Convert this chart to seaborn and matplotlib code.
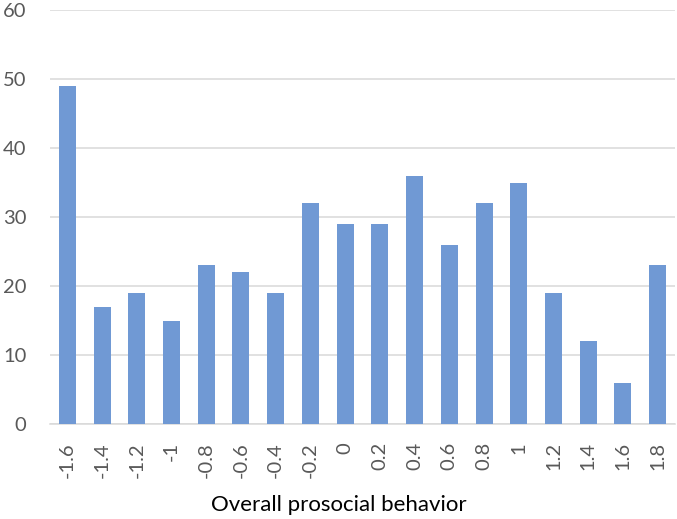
import matplotlib
matplotlib.use("Agg")
import matplotlib.pyplot as plt
import seaborn as sns
import pandas as pd

categories = ["-1.6", "-1.4", "-1.2", "-1", "-0.8", "-0.6", "-0.4", "-0.2", "0",
              "0.2", "0.4", "0.6", "0.8", "1", "1.2", "1.4", "1.6", "1.8"]
counts = [49, 17, 19, 15, 23, 22, 19, 32, 29, 29, 36, 26, 32, 35, 19, 12, 6, 23]
y_ticks = [0, 10, 20, 30, 40, 50, 60]
x_label = "Overall prosocial behavior"

df = pd.DataFrame({"cat": categories, "val": counts})

sns.set_style("white")
plt.rcParams["font.family"] = ["Lato", "DejaVu Sans"]

fig = plt.figure(figsize=(6.77, 5.19), dpi=100)
ax = fig.add_axes([50/677, 1-424/519, 625/677, 414/519])
sns.barplot(data=df, x="cat", y="val", order=categories, color="#7099D4",
            saturation=1, width=0.49, ax=ax, zorder=3, linewidth=0)

ax.set_ylim(0, 60)
ax.set_yticks(y_ticks)
ax.set_xlim(-0.5, len(categories) - 0.5)
ax.yaxis.grid(True, color="#D9D9D9", linewidth=1.1, zorder=0)
ax.set_axisbelow(True)
for s in ["top", "right", "left"]:
    ax.spines[s].set_visible(False)
ax.spines["bottom"].set_color("#D9D9D9")
ax.spines["bottom"].set_linewidth(1.1)
ax.tick_params(axis="both", length=0, colors="#595959")
ax.tick_params(axis="y", labelsize=14.5, pad=17)
ax.tick_params(axis="x", labelsize=14.5, pad=13, labelrotation=90)
ax.set_ylabel("")
ax.set_xlabel(x_label, fontsize=16, color="black")
ax.xaxis.set_label_coords((338.5 - 50) / 625, -(505 - 424) / 414, transform=ax.transAxes)
ax.xaxis.label.set_va("center")

fig.savefig("out.png", dpi=100)
